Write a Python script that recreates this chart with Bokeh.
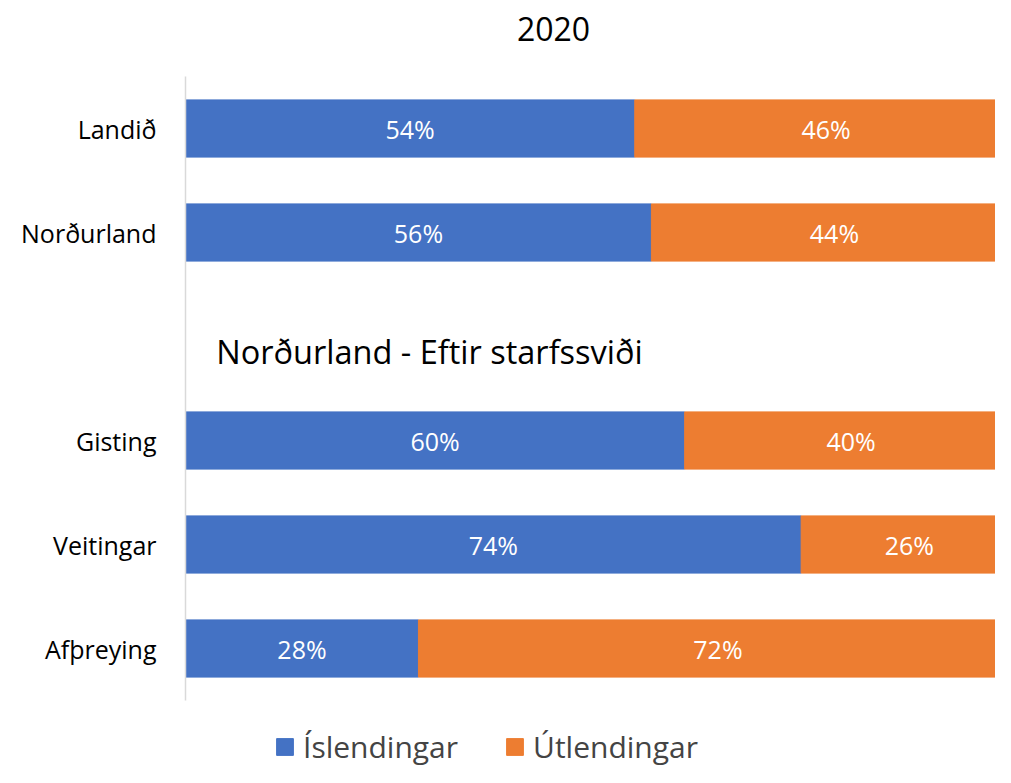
from bokeh.plotting import figure
from bokeh.models import Range1d, Legend, LegendItem, ColumnDataSource, FixedTicker
from bokeh.core.properties import value
from bokeh.embed import file_html
from bokeh.resources import INLINE

# data
categories = ["Landið", "Norðurland", " ", "Gisting", "Veitingar", "Afþreying"]
islendingar = [0.54, 0.56, None, 0.60, 0.74, 0.28]
utlendingar = [0.46, 0.44, None, 0.40, 0.26, 0.72]
series_names = ["Íslendingar", "Útlendingar"]
title_text = "2020"
section_text = "Norðurland - Eftir starfssviði"

BLUE = "#4472C4"
ORANGE = "#ED7D31"
FONT = "Open Sans"

n = len(categories)
pos = {c: n - i - 0.5 for i, c in enumerate(categories)}

rows = [(c, a, b) for c, a, b in zip(categories, islendingar, utlendingar) if a is not None]
src = ColumnDataSource(dict(
    y=[pos[c] for c, a, b in rows],
    isl=[a for c, a, b in rows],
    zero=[0] * len(rows),
    total=[a + b for c, a, b in rows],
    isl_mid=[a / 2 for c, a, b in rows],
    utl_mid=[a + b / 2 for c, a, b in rows],
    isl_lbl=[f"{round(a*100)}%" for c, a, b in rows],
    utl_lbl=[f"{round(b*100)}%" for c, a, b in rows],
))

# layout: frame spans the whole canvas height; the axis line is bounded to the bars' area
TOP_EXTRA = 76 / 104.0
BOTTOM_EXTRA = 67 / 104.0
p = figure(width=995, height=767, output_backend="svg", toolbar_location=None,
           y_range=Range1d(-BOTTOM_EXTRA, n + TOP_EXTRA), x_range=Range1d(0, 0.9736),
           min_border_left=185, min_border_right=0, min_border_top=0,
           min_border_bottom=0)

r1 = p.hbar(y="y", left="zero", right="isl", height=0.55, color=BLUE, source=src)
r2 = p.hbar(y="y", left="isl", right="total", height=0.55, color=ORANGE, source=src)

p.text(x="isl_mid", y="y", text="isl_lbl", source=src, text_color="white",
       text_font=value(FONT), text_font_size="25px", text_align="center",
       text_baseline="middle")
p.text(x="utl_mid", y="y", text="utl_lbl", source=src, text_color="white",
       text_font=value(FONT), text_font_size="25px", text_align="center",
       text_baseline="middle")

# section heading in the blank slot
p.text(x=[0.037], y=[pos[" "]], text=[section_text], text_color="#000000",
       text_font=value(FONT), text_font_size="32.5px", text_align="left",
       text_baseline="middle", y_offset=15)

# chart title
p.text(x=[0.4423], y=[n + 0.452], text=[title_text], text_color="#000000",
       text_font=value(FONT), text_font_size="32px", text_align="center",
       text_baseline="middle")

p.xaxis.visible = False
p.xgrid.visible = False
p.ygrid.visible = False
p.outline_line_color = None

ax = p.yaxis[0]
ax.ticker = FixedTicker(ticks=[pos[c] for c, a, b in rows])
ax.major_label_overrides = {pos[c]: c for c, a, b in rows}
ax.bounds = (0, n)
ax.axis_line_color = "#D9D9D9"
ax.axis_line_width = 1.5
ax.major_tick_line_color = None
ax.minor_tick_line_color = None
ax.major_label_text_font = FONT
ax.major_label_text_font_size = "25px"
ax.major_label_text_color = "#000000"
ax.major_label_standoff = 23

legend = Legend(items=[LegendItem(label=series_names[0], renderers=[r1]),
                       LegendItem(label=series_names[1], renderers=[r2])],
                orientation="horizontal", location=(89, 0),
                label_text_font=FONT, label_text_font_size="30px",
                glyph_width=21, glyph_height=21, label_standoff=8, spacing=46,
                padding=0, margin=0, border_line_color=None,
                background_fill_alpha=0, label_height=30)
p.add_layout(legend, "center")

open("out.html", "w").write(file_html(p, INLINE))
